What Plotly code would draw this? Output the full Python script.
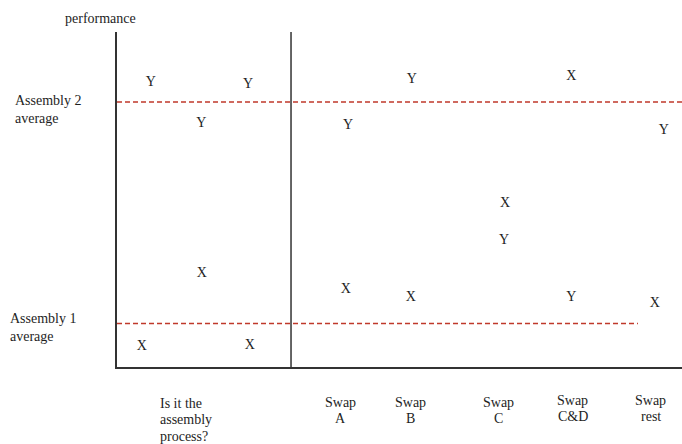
import plotly.graph_objects as go

# ---- data (conceptual units: x position 0-100 across the panel, performance 0-100) ----
x_marks_X = [15.0, 4.4, 23.5, 40.5, 52.0, 68.7, 80.4, 95.2]
perf_X = [27.8, 6.0, 6.3, 23.0, 20.6, 48.7, 86.6, 19.1]

x_marks_Y = [6.0, 14.9, 23.2, 40.9, 52.2, 68.5, 80.4, 96.8]
perf_Y = [84.8, 72.8, 84.2, 72.2, 85.7, 37.9, 20.6, 70.7]

assembly2_avg = 79.1
assembly1_avg = 13.0
assembly1_line_end = 92.2
divider_x = 30.8

category_labels = ["Is it the<br>assembly<br>process?", "Swap<br>A", "Swap<br>B",
                   "Swap<br>C", "Swap<br>C&D", "Swap<br>rest"]
category_x = [7.6, 39.6, 52.0, 67.6, 80.7, 94.5]

FONT = "Liberation Serif, Times New Roman, serif"
TXT = "#1e1e1e"
fs = 14

fig = go.Figure()
fig.add_trace(go.Scatter(x=x_marks_X, y=perf_X, mode="text", text=["X"] * len(x_marks_X),
                         textposition="middle center", textfont=dict(family=FONT, size=fs, color=TXT),
                         cliponaxis=False, showlegend=False, hoverinfo="skip"))
fig.add_trace(go.Scatter(x=x_marks_Y, y=perf_Y, mode="text", text=["Y"] * len(x_marks_Y),
                         textposition="middle center", textfont=dict(family=FONT, size=fs, color=TXT),
                         cliponaxis=False, showlegend=False, hoverinfo="skip"))

red = "#c0392b"
fig.add_shape(type="line", x0=0, x1=100, y0=assembly2_avg, y1=assembly2_avg, xref="x", yref="y",
              line=dict(color=red, width=1.5, dash="5px,3px"))
fig.add_shape(type="line", x0=0, x1=assembly1_line_end, y0=assembly1_avg, y1=assembly1_avg, xref="x", yref="y",
              line=dict(color=red, width=1.5, dash="5px,3px"))
fig.add_shape(type="line", x0=divider_x, x1=divider_x, y0=0, y1=1, xref="x", yref="paper",
              line=dict(color="#333333", width=1.5))

W, H = 682, 444
ml, mr, mt, mb = 117, 0, 32, 77
pw = W - ml - mr

# axis-side labels
fig.add_annotation(text="performance", xref="paper", yref="paper", x=(63 - ml) / pw, y=1,
                   xanchor="left", yanchor="middle", yshift=14, showarrow=False,
                   font=dict(family=FONT, size=fs, color=TXT))
fig.add_annotation(text="Assembly 2<br>average", xref="paper", yref="y", x=(13 - ml) / pw, y=assembly2_avg,
                   xanchor="left", yanchor="middle", yshift=-7, align="left", showarrow=False,
                   font=dict(family=FONT, size=fs, color=TXT))
fig.add_annotation(text="Assembly 1<br>average", xref="paper", yref="y", x=(8 - ml) / pw, y=assembly1_avg,
                   xanchor="left", yanchor="middle", yshift=-4, align="left", showarrow=False,
                   font=dict(family=FONT, size=fs, color=TXT))

# category labels, one annotation per line
for i, (lab, cx) in enumerate(zip(category_labels, category_x)):
    lines = lab.split("<br>")
    first = -36 if i == 0 else (-35 if i < 4 else -33)
    for j, ln in enumerate(lines):
        fig.add_annotation(text=ln, xref="x", yref="paper", x=cx, y=0,
                           xanchor="left" if i == 0 else "center", yanchor="middle",
                           xshift=-2 if i == 0 else 0,
                           yshift=first - 16.5 * j, showarrow=False,
                           font=dict(family=FONT, size=fs, color=TXT))

fig.update_layout(
    width=W, height=H, margin=dict(l=ml, r=mr, t=mt, b=mb),
    paper_bgcolor="white", plot_bgcolor="white",
    xaxis=dict(range=[0, 100], showgrid=False, zeroline=False, showticklabels=False, ticks="",
               showline=True, linecolor="#333333", linewidth=1.5),
    yaxis=dict(range=[0, 100], showgrid=False, zeroline=False, showticklabels=False, ticks="",
               showline=True, linecolor="#333333", linewidth=1.5),
    showlegend=False,
)

fig.write_html("out.html", config={"displayModeBar": False},
               post_script="document.body.style.margin='0';document.body.style.overflow='hidden';")
